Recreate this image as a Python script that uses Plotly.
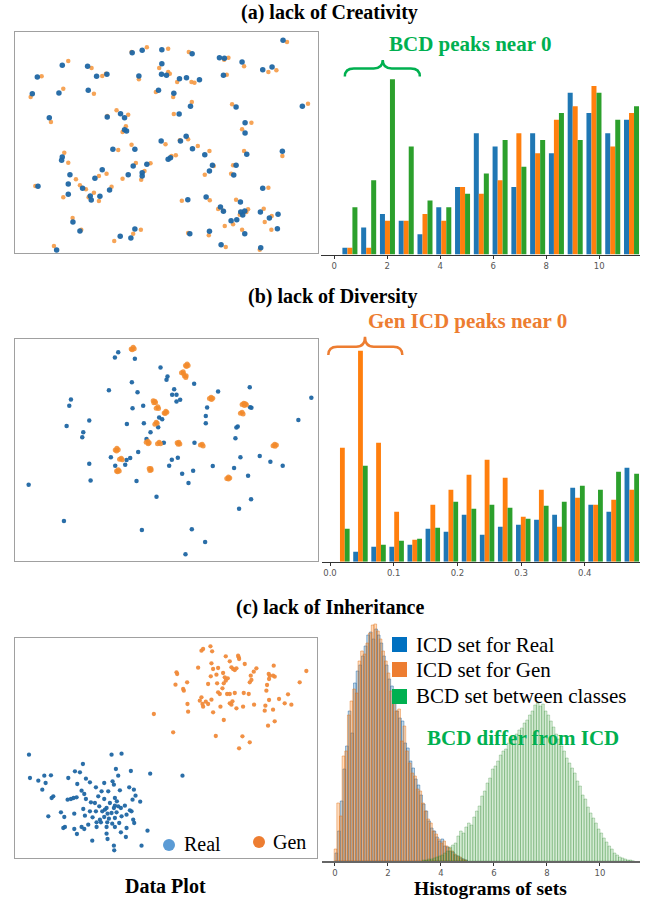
import numpy as np
import plotly.graph_objects as go

W, H = 667, 899

# ---------------- (a) lack of Creativity ----------------
# embedding coordinates (real point, generated point) pairs
real_a = [(85.0,4.5),(39.7,8.2),(42.7,7.5),(48.6,7.3),(57.7,8.5),(18.7,12.0),(26.3,12.3),(65.9,9.7),
          (67.4,9.9),(72.7,11.0),(48.6,11.5),(78.9,13.3),(81.7,12.5),(11.2,15.5),(29.0,15.3),(32.1,14.7),
          (41.7,15.2),(48.5,14.7),(50.0,15.0),(53.9,16.0),(56.0,15.7),(59.9,16.3),(67.1,15.0),(9.7,20.5),
          (17.7,20.3),(26.5,19.5),(47.6,19.5),(52.2,20.4),(57.2,24.3),(70.9,24.5),(90.8,24.3),(14.8,27.7),
          (32.2,27.5),(36.2,26.5),(37.4,27.7),(53.8,26.6),(37.4,31.3),(38.0,31.7),(73.6,29.2),(73.6,32.3),
          (48.4,34.7),(54.2,34.7),(55.9,33.3),(33.9,37.2),(40.5,37.2),(57.8,37.0),(61.5,38.8),(74.1,38.7),
          (84.8,37.8),(18.7,39.5),(18.5,40.5),(50.5,40.2),(51.2,39.7),(44.1,41.7),(40.0,42.2),(63.8,42.0),
          (70.9,42.0),(30.7,43.3),(28.5,45.9),(42.7,44.2),(42.7,45.2),(62.9,43.7),(21.0,44.8),(38.5,44.8),
          (70.2,44.9),(20.5,47.6),(24.8,48.9),(11.4,48.3),(32.9,49.4),(78.9,48.9),(20.5,50.7),(27.1,51.2),
          (27.4,52.4),(30.0,51.3),(56.4,52.3),(61.9,51.5),(72.2,53.0),(66.2,54.5),(67.1,55.8),(72.3,56.0),
          (73.5,55.7),(72.9,56.9),(78.2,56.0),(80.9,57.8),(83.5,56.7),(69.4,58.6),(71.1,58.3),(21.9,59.0),
          (24.0,61.7),(40.5,61.1),(57.0,62.5),(62.9,61.8),(73.5,62.5),(83.3,61.0),(36.1,63.3),(39.3,63.8),
          (66.4,65.8),(17.0,67.4),(78.3,66.7)]
gen_a = [(86.2,5.0),(39.5,8.0),(44.1,6.6),(50.5,7.0),(56.7,8.0),(20.5,10.7),(27.5,12.8),(67.3,10.3),
         (68.6,9.7),(73.3,12.3),(47.8,12.8),(80.6,14.0),(83.0,13.5),(12.5,15.3),(30.7,15.2),(31.8,14.5),
         (41.7,16.2),(50.5,14.0),(51.0,14.5),(53.2,17.0),(57.5,17.0),(58.4,17.2),(68.1,14.8),(9.2,21.5),
         (19.0,19.0),(28.2,20.5),(46.8,20.0),(52.0,21.5),(57.6,23.0),(69.7,23.7),(92.5,23.5),(15.3,29.0),
         (32.2,27.2),(35.0,25.5),(38.5,26.8),(52.2,26.6),(37.8,30.3),(36.8,32.0),(75.5,29.2),(72.7,31.2),
         (49.7,35.7),(54.0,34.5),(56.5,34.2),(35.5,37.4),(39.5,35.8),(59.4,36.2),(62.9,37.7),(73.3,37.7),
         (84.8,39.2),(19.3,38.2),(20.5,41.2),(52.8,39.0),(51.5,39.2),(45.2,41.4),(40.8,41.3),(64.2,42.2),
         (70.0,42.0),(32.0,44.5),(29.7,45.2),(43.4,43.7),(42.4,46.3),(61.5,44.8),(22.8,46.2),(36.8,46.0),
         (69.4,44.5),(24.0,48.0),(25.8,49.2),(10.6,48.2),(33.5,48.4),(80.6,48.7),(19.0,51.6),(26.6,51.6),
         (28.2,50.2),(29.7,52.7),(54.6,52.6),(63.0,52.5),(70.9,52.3),(65.5,55.1),(67.0,55.6),(74.5,55.2),
         (74.0,56.0),(72.0,56.8),(79.2,55.0),(81.6,57.2),(79.5,59.0),(67.5,60.2),(70.0,59.7),(21.8,57.8),
         (24.4,61.3),(42.3,61.3),(56.5,62.3),(62.7,63.0),(72.7,61.3),(81.5,61.3),(34.3,64.7),(40.0,62.5),
         (67.8,66.5),(16.2,66.2),(78.0,67.3)]

# grouped distance histogram (counts per bin)
hist_a_first_center = 0.591
hist_a_bin_width = 0.7086
icd_real_a = [1, 4, 6, 5, 3, 7, 10, 18, 16, 10, 18, 15, 24, 21, 18, 20]
icd_gen_a = [1, 1, 5, 5, 6, 5, 10, 9, 11, 18, 15, 20, 22, 25, 16, 21]
bcd_a = [7, 11, 26, 16, 8, 7, 9, 12, 17, 13, 17, 21, 17, 24, 20, 22]

# ---------------- (b) lack of Diversity ----------------
real_b = [(35.5,6.8),(34.5,8.3),(40.5,8.7),(48.2,11.3),(50.3,14.0),(50.0,15.0),(39.6,15.7),(58.3,16.2),
          (32.7,18.1),(41.3,18.7),(52.3,17.8),(51.7,19.5),(53.0,19.5),(54.1,21.0),(53.0,21.5),(65.5,18.5),
          (75.0,17.2),(93.5,20.4),(21.3,20.9),(20.8,22.8),(39.8,23.5),(43.0,22.8),(75.1,23.2),(75.5,23.4),
          (62.2,23.3),(61.8,25.8),(47.8,26.3),(48.7,26.8),(26.8,27.2),(89.6,27.0),(20.0,28.8),(38.1,28.2),
          (43.2,28.0),(47.5,29.2),(61.8,28.0),(71.4,29.0),(71.0,29.3),(25.0,30.7),(24.7,32.2),(45.2,30.7),
          (70.7,32.5),(44.0,32.7),(49.2,33.8),(58.4,33.8),(33.3,38.2),(39.1,38.4),(38.0,39.0),(34.6,40.7),
          (37.6,40.4),(41.5,36.6),(51.6,38.9),(53.4,38.3),(72.2,38.2),(78.0,37.8),(81.2,39.5),(84.9,40.7),
          (26.8,40.1),(50.8,40.7),(63.9,40.8),(70.3,41.4),(58.0,42.2),(54.7,43.1),(74.5,43.7),(27.2,45.1),
          (41.0,45.3),(56.6,45.9),(8.6,46.4),(47.0,50.0),(75.4,50.7),(71.8,53.6),(19.2,57.2),(42.6,59.9),
          (57.6,59.7),(61.6,63.5),(55.7,67.2)]
gen_b = [(39.4,5.8),(40.0,5.3),(40.3,5.7),(39.7,6.0),
         (55.7,10.7),(56.2,10.3),(56.5,10.7),(56.0,11.0),
         (54.5,12.9),(55.0,12.6),(55.1,13.1),(55.4,13.9),(55.9,13.8),(55.8,14.3),
         (62.9,20.6),(63.4,20.2),(63.9,20.5),(63.5,20.9),
         (46.0,21.3),(46.5,21.4),(46.2,21.9),(46.7,21.8),
         (46.9,23.5),(47.4,23.1),(47.6,23.6),
         (49.3,24.9),(49.8,24.4),(50.1,24.7),(49.6,25.1),
         (72.7,22.4),(73.2,22.0),(73.7,22.2),(74.0,22.5),(73.4,22.7),
         (72.2,25.0),(72.7,24.7),(73.0,25.2),
         (46.5,28.3),(46.9,27.7),(47.2,28.0),
         (43.9,33.7),(44.4,33.4),(44.8,33.8),(44.5,34.1),
         (47.3,34.1),(47.8,33.7),(48.2,34.1),
         (53.2,33.8),(53.7,33.7),(54.0,34.2),(53.5,34.3),
         (60.2,34.5),(60.7,34.3),(61.0,34.8),
         (34.6,36.0),(35.1,35.5),(35.5,35.9),(35.0,36.3),
         (35.9,38.8),(36.4,38.5),(36.7,38.9),
         (35.0,42.3),(35.5,41.9),(35.8,42.3),(35.3,42.5),
         (44.8,41.5),(45.3,41.5),(45.4,42.0),(45.0,42.1),
         (68.1,44.5),(68.6,44.1),(69.0,44.4),(68.6,44.7),
         (82.0,34.7),(82.5,34.3),(83.0,34.5),(82.6,34.9)]

hist_b_first_center = 0.0194
hist_b_bin_width = 0.0284
icd_real_b = [0, 10, 15, 15, 17, 33, 30, 47, 27, 35, 37, 42, 47, 74, 57, 50, 94]
icd_gen_b = [114, 211, 119, 50, 22, 57, 72, 87, 102, 84, 45, 72, 35, 64, 57, 62, 72]
bcd_b = [33, 96, 17, 21, 23, 34, 60, 53, 57, 54, 43, 56, 60, 76, 72, 90, 88]

# ---------------- (c) lack of Inheritance ----------------
real_c = [(8.7,40.5),(33.5,40.5),(36.5,40.2),(24.9,43.3),(9.0,47.5),(11.5,48.3),(13.3,46.8),(15.3,46.7),
          (13.7,49.0),(12.7,51.0),(22.5,45.5),(24.0,45.8),(20.5,47.5),(25.8,47.7),(23.2,49.3),(27.0,48.8),
          (28.8,50.3),(31.3,49.0),(33.8,48.5),(34.2,49.5),(35.5,46.8),(34.8,44.8),(39.3,45.4),(45.1,46.2),
          (24.5,51.3),(25.3,52.3),(30.5,51.5),(32.5,51.5),(36.0,51.2),(38.8,50.3),(40.2,51.0),(40.7,52.8),
          (39.8,54.0),(42.1,54.6),(16.0,53.0),(15.5,53.5),(20.3,54.0),(21.3,53.8),(22.1,53.5),(23.0,53.3),
          (25.8,53.8),(29.5,53.0),(31.3,53.8),(34.5,53.5),(35.1,54.5),(33.0,55.0),(34.5,55.8),(35.5,56.0),
          (37.5,55.8),(36.3,56.5),(34.2,56.5),(32.0,56.5),(31.5,57.0),(29.8,56.0),(28.5,55.0),(27.3,54.8),
          (25.0,56.8),(27.0,57.5),(28.8,57.5),(30.7,57.5),(32.3,58.2),(33.5,58.0),(35.0,57.8),(39.0,57.2),
          (39.5,57.5),(38.0,58.5),(18.3,57.8),(19.3,59.2),(22.3,58.2),(25.5,58.8),(27.8,59.3),(30.0,60.0),
          (31.3,59.2),(32.7,59.7),(34.5,59.5),(36.5,59.0),(40.0,60.0),(40.3,61.0),(14.5,59.0),(29.0,60.8),
          (30.3,60.8),(32.2,60.8),(33.7,61.2),(35.8,61.0),(19.0,62.5),(19.5,62.2),(22.3,62.8),(24.5,62.2),
          (25.3,62.8),(26.5,61.5),(29.0,62.2),(32.0,62.2),(34.5,62.2),(38.0,62.5),(23.1,64.3),(27.7,66.3),
          (32.0,64.2),(32.3,65.8),(36.3,63.8),(37.8,65.2),(34.2,67.8),(34.3,69.2),(42.5,67.8),(44.3,63.3),
          (54.8,46.8)]
gen_c = [(60.5,9.3),(61.0,8.8),(63.2,8.0),(63.7,9.5),(67.8,11.0),(69.0,12.5),(71.5,10.8),(71.8,11.8),
         (71.7,11.3),(73.5,13.3),(77.0,14.6),(76.2,15.6),(82.2,13.8),(92.0,15.4),(53.0,15.8),(53.2,16.3),
         (59.5,14.4),(63.5,13.1),(64.0,14.8),(65.5,14.5),(63.3,17.0),(65.0,16.5),(67.0,16.0),(67.5,17.3),
         (67.8,18.3),(68.4,17.6),(67.2,19.1),(69.5,14.3),(70.0,14.8),(70.5,15.1),(71.0,14.6),(75.3,16.8),
         (75.0,18.8),(75.5,18.1),(80.7,16.3),(81.0,16.8),(82.0,16.8),(82.5,17.1),(80.8,17.8),(56.2,18.8),
         (52.7,19.5),(55.0,20.8),(55.2,21.3),(62.5,19.3),(65.2,19.1),(66.8,20.6),(65.5,21.8),(66.0,22.3),
         (68.2,22.3),(69.0,22.3),(70.5,22.0),(73.2,22.0),(74.7,22.3),(80.2,19.6),(80.0,21.3),(90.0,18.8),
         (86.5,22.4),(83.8,23.8),(85.5,25.1),(87.5,25.5),(80.8,24.1),(79.7,25.8),(79.5,27.3),(82.0,27.0),
         (76.3,25.5),(73.0,26.1),(71.0,26.6),(69.8,24.5),(69.5,25.5),(69.0,25.1),(66.2,26.1),(64.0,27.8),
         (60.5,23.3),(60.0,24.3),(60.8,25.3),(61.0,26.1),(61.8,24.6),(62.5,25.3),(63.5,24.0),(56.3,25.3),
         (56.5,27.6),(46.2,28.3),(52.0,33.8),(67.2,30.1),(80.5,31.8),(82.5,30.5),(64.8,34.9),(72.8,35.0),
         (75.0,36.8),(71.8,38.6)]

# fine-binned distance histograms
icd_real_c_start, icd_gen_c_start, bcd_c_start = 0.05, 0.02, 3.35
hist_c_bin_width = 0.1
icd_real_c = [8, 30, 60, 92, 115, 150, 128, 178, 190, 196, 205, 215, 226, 229, 222, 232, 226, 218,
              205, 196, 182, 175, 160, 150, 143, 140, 118, 113, 100, 93, 82, 76, 66, 57, 50, 40,
              33, 30, 24, 20, 22, 15, 14, 10, 9, 6, 5, 3, 2, 1]
icd_gen_c = [12, 58, 45, 105, 110, 146, 160, 172, 168, 200, 210, 207, 218, 228, 236, 237, 230, 222,
             210, 200, 188, 170, 160, 150, 152, 120, 135, 110, 98, 88, 85, 72, 70, 58, 50, 42,
             38, 30, 27, 22, 18, 20, 15, 13, 10, 7, 5, 4, 2, 1]
bcd_c = [1, 1, 2, 2, 3, 4, 5, 6, 8, 10, 14, 16, 18, 25, 30, 28, 34, 38, 36, 44, 50, 55, 65, 70,
         78, 83, 92, 95, 100, 106, 110, 112, 118, 121, 125, 127, 131, 133, 138, 141, 146, 150,
         156, 158, 155, 157, 150, 146, 140, 134, 127, 122, 115, 110, 103, 98, 93, 88, 80, 75,
         66, 62, 54, 48, 43, 38, 32, 28, 23, 19, 15, 12, 8, 6, 4, 3, 2, 1, 1, 0]

hist_ticks_a = [0, 2, 4, 6, 8, 10]
hist_ticks_b = [0.0, 0.1, 0.2, 0.3, 0.4]

# ---------------- colours ----------------
C_BLUE, C_ORANGE, C_GREEN = "#1f77b4", "#ff7f0e", "#2ca02c"
PT_BLUE, PT_ORANGE = "#1f66a3", "#f59a45"
TXT_GREEN, TXT_ORANGE = "#00b050", "#ed7d31"
SERIF = "Liberation Serif"


def px(x, y):
    """pixel position -> paper coordinates"""
    return x / W, 1 - y / H


def dom_x(a, b):
    return [a / W, b / W]


def dom_y(top, bottom):
    return [1 - bottom / H, 1 - top / H]


def centers(first, width, n):
    return first + width * np.arange(n)


fig = go.Figure()


def scatter(points, xa, ya, color, size, opacity=1.0):
    xs, ys = zip(*points)
    fig.add_trace(go.Scatter(x=xs, y=ys, mode="markers", xaxis=xa, yaxis=ya, showlegend=False,
                             marker=dict(color=color, size=size, opacity=opacity, line=dict(width=0))))


def grouped_bars(series, first, width, xa, ya):
    bw = 0.8 * width / 3
    for i, (vals, col) in enumerate(series):
        xc = centers(first, width, len(vals))
        fig.add_trace(go.Bar(x=xc, y=vals, width=bw, offset=-0.4 * width + i * bw, xaxis=xa, yaxis=ya,
                             marker=dict(color=col, line=dict(width=0)), showlegend=False))


# (a)
scatter(gen_a, "x", "y", PT_ORANGE, 4.5, 0.9)
scatter(real_a, "x", "y", PT_BLUE, 5.5, 0.95)
grouped_bars([(icd_real_a, C_BLUE), (icd_gen_a, C_ORANGE), (bcd_a, C_GREEN)],
             hist_a_first_center, hist_a_bin_width, "x2", "y2")
# (b)
scatter(real_b, "x3", "y3", PT_BLUE, 4.5, 0.95)
scatter(gen_b, "x3", "y3", "#f28a2a", 5, 0.85)
grouped_bars([(icd_real_b, C_BLUE), (icd_gen_b, C_ORANGE), (bcd_b, C_GREEN)],
             hist_b_first_center, hist_b_bin_width, "x4", "y4")
# (c)
scatter(real_c, "x5", "y5", PT_BLUE, 4.3, 0.95)
scatter(gen_c, "x5", "y5", "#f08a3a", 4.3, 0.95)
for vals, start, fill, edge, lw in [
        (icd_real_c, icd_real_c_start, "rgba(31,119,180,0.28)", "rgba(31,100,160,0.6)", 0.8),
        (icd_gen_c, icd_gen_c_start, "rgba(255,127,14,0.28)", "rgba(220,110,20,0.55)", 0.8),
        (bcd_c, bcd_c_start, "rgba(44,160,44,0.2)", "rgba(30,120,30,0.42)", 0.6)]:
    fig.add_trace(go.Bar(x=centers(start, hist_c_bin_width, len(vals)), y=vals,
                         width=hist_c_bin_width, offset=-hist_c_bin_width / 2,
                         xaxis="x6", yaxis="y6", showlegend=False,
                         marker=dict(color=fill, line=dict(color=edge, width=lw))))

box = dict(showline=True, mirror=True, linecolor="#a0a0a0", linewidth=1.2, showgrid=False,
           zeroline=False, showticklabels=False, ticks="")
hx = dict(showline=True, linecolor="#333", linewidth=1, showgrid=False, zeroline=False,
          ticks="outside", ticklen=3, tickcolor="#333", tickwidth=1,
          tickfont=dict(family="DejaVu Sans", size=8.5, color="#555"))
hy = dict(visible=False, showgrid=False, zeroline=False)

layout = dict(
    width=W, height=H, margin=dict(l=0, r=0, t=0, b=0),
    paper_bgcolor="white", plot_bgcolor="white", barmode="overlay", showlegend=False,
    xaxis=dict(box, domain=dom_x(15, 318), range=[4.5, 95.5], anchor="y"),
    yaxis=dict(box, domain=dom_y(32, 253), range=[68.3, 2.0], anchor="x"),
    xaxis2=dict(hx, domain=dom_x(321, 640), range=[-0.50, 11.54], tickvals=hist_ticks_a, anchor="y2"),
    yaxis2=dict(hy, domain=dom_y(32, 254.5), range=[0, 33], anchor="x2"),
    xaxis3=dict(box, domain=dom_x(15, 318), range=[4.5, 95.5], anchor="y3"),
    yaxis3=dict(box, domain=dom_y(339, 561), range=[69.2, 2.8], anchor="x3"),
    xaxis4=dict(hx, domain=dom_x(322, 640), range=[-0.0126, 0.4867], tickvals=hist_ticks_b,
                tickformat=".1f", anchor="y4"),
    yaxis4=dict(hy, domain=dom_y(330, 561.7), range=[0, 231.7], anchor="x4"),
    xaxis5=dict(box, domain=dom_x(15, 317), range=[4.5, 95.2], anchor="y5"),
    yaxis5=dict(box, domain=dom_y(638, 858), range=[71.5, 5.5], anchor="x5"),
    xaxis6=dict(hx, domain=dom_x(322, 640), range=[-0.49, 11.51], tickvals=hist_ticks_a,
                anchor="y6", linecolor="#666", linewidth=1.6),
    yaxis6=dict(hy, domain=dom_y(615, 861), range=[0, 246], anchor="x6"),
)
fig.update_layout(**layout)

ann = []


def text(s, x, y, size, color="black", bold=False, xanchor="center"):
    px_, py_ = px(x, y)
    ann.append(dict(text=s, x=px_, y=py_, xref="paper", yref="paper", xanchor=xanchor,
                    yanchor="middle", showarrow=False,
                    font=dict(family=SERIF, size=size, color=color,
                              weight="bold" if bold else "normal")))


text("(a) lack of Creativity", 329, 13, 20, bold=True)
text("(b) lack of Diversity", 332, 297, 20, bold=True)
text("(c) lack of Inheritance", 330, 607, 20, bold=True)
text("BCD peaks near 0", 470, 44, 21, TXT_GREEN, True)
text("Gen ICD peaks near 0", 467, 321, 21, TXT_ORANGE, True)
text("BCD differ from ICD", 523, 738, 21, TXT_GREEN, True)
text("Data Plot", 165, 886, 20, bold=True)
text("Histograms of sets", 490, 888, 19.5, bold=True)
text("ICD set for Real", 414, 645, 21, xanchor="left")
text("ICD set for Gen", 414, 670, 21, xanchor="left")
text("BCD set between classes", 414, 696, 21, xanchor="left")
text("Real", 182, 844, 20, xanchor="left")
text("Gen", 271, 842, 20, xanchor="left")
fig.update_layout(annotations=ann)


def brace(x0, x1, xm, yb, ym, yt):
    d = 0.12 * (x1 - x0)
    return (f"M{x0},{yb} Q{x0},{ym} {x0 + d},{ym} L{xm - d},{ym} Q{xm},{ym} {xm},{yt} "
            f"Q{xm},{ym} {xm + d},{ym} L{x1 - d},{ym} Q{x1},{ym} {x1},{yb}")


shapes = [
    dict(type="path", xref="x2", yref="y2", path=brace(0.40, 3.23, 1.83, 26.4, 27.6, 28.85),
         line=dict(color=TXT_GREEN, width=2.5)),
    dict(type="path", xref="x4", yref="y4", path=brace(-0.0027, 0.1135, 0.0549, 206.7, 215, 225),
         line=dict(color=TXT_ORANGE, width=2.5)),
]
# legend swatches for the distance sets
for (y0, col) in [(637, "#0070c0"), (662, "#ed7d31"), (689, "#00b050")]:
    a0, b0 = px(392, y0)
    a1, b1 = px(407, y0 + 15)
    shapes.append(dict(type="rect", xref="paper", yref="paper", x0=a0, y0=b1, x1=a1, y1=b0,
                       fillcolor=col, line=dict(width=0)))
# legend markers for the data plot
for (cx, cy, col) in [(169, 845, "#5b9bd5"), (259, 842, "#ed7d31")]:
    a0, b0 = px(cx - 6, cy - 6)
    a1, b1 = px(cx + 6, cy + 6)
    shapes.append(dict(type="circle", xref="paper", yref="paper", x0=a0, y0=b1, x1=a1, y1=b0,
                       fillcolor=col, line=dict(width=0)))
fig.update_layout(shapes=shapes)

fig.write_html("out.html")
